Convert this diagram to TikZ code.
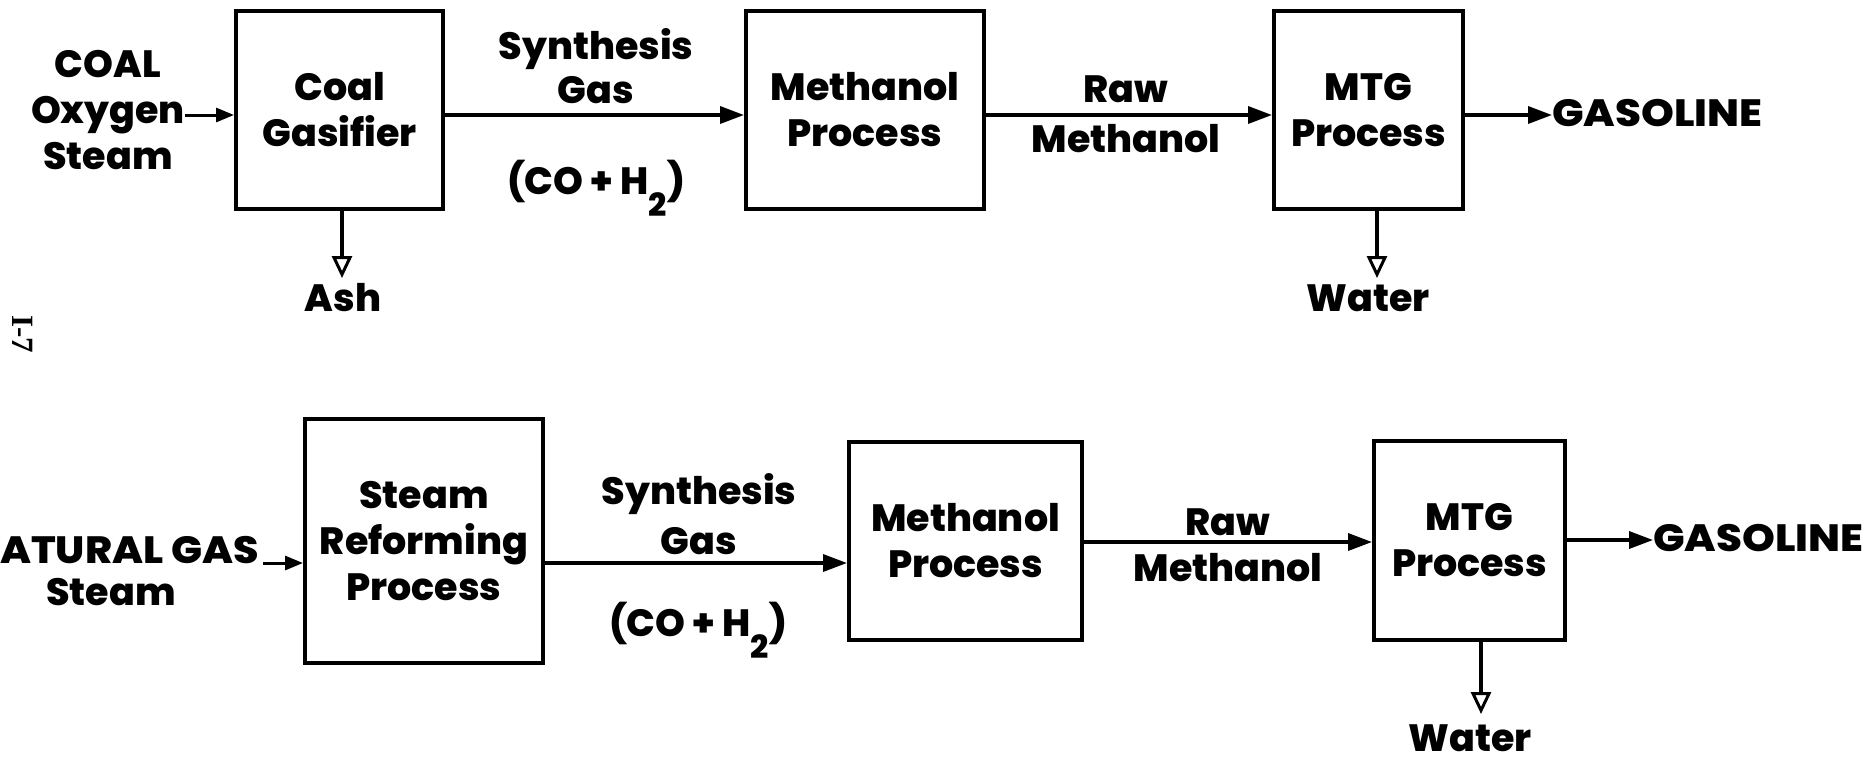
\documentclass[tikz,border=0pt]{standalone}
\usepackage{fontspec}
\setmainfont{Poppins}[BoldFont={* ExtraBold}]
\newfontfamily\pagefont{Liberation Serif}
\usetikzlibrary{arrows.meta}
\newcommand\lblfont{\fontsize{38}{46}\selectfont\bfseries}
\begin{document}
\begin{tikzpicture}[x=1pt,y=-1pt,
  box/.style={draw,line width=4pt,inner sep=0pt,align=center,font=\lblfont},
  lbl/.style={align=center,font=\lblfont,inner sep=0pt},
  arr/.style={line width=3.5pt,-{Triangle[length=24pt,width=17pt]}},
  sarr/.style={line width=3pt,-{Triangle[length=18pt,width=14pt]}},
  darr/.style={line width=3.5pt,-{Triangle[open,length=22pt,width=20pt,line width=3pt]}}
]
\fill[white] (0,0) rectangle (1873,761);
\useasboundingbox (0,0) rectangle (1873,761);
% ---------- top row ----------
\coordinate (r1) at (0,115);
\node[lbl] (in1) at (108,110) {COAL\\Oxygen\\Steam};
\node[box,minimum width=207pt,minimum height=198pt] (cg) at (339.5,109.5) {Coal\\Gasifier};
\node[box,minimum width=238pt,minimum height=198pt] (m1) at (865,110) {Methanol\\Process};
\node[box,minimum width=189pt,minimum height=198pt] (t1) at (1368.5,110) {MTG\\Process};
\node[lbl] (sg1) at (596,66) {Synthesis\\[-2pt]Gas};
\node[lbl] (co1) at (596,188) {(CO + H\raisebox{-22pt}{\fontsize{32}{32}\selectfont 2})};
\node[lbl] (rm1) at (1126,114) {Raw\\[4pt]Methanol};
\node[lbl,anchor=west] (g1) at (1552,113) {\scalebox{1.1}[1]{GASOLINE}};
\node[lbl] (ash) at (343,298) {Ash};
\node[lbl] (w1) at (1368,298) {Water};
\coordinate (ashend) at (342,278);
\coordinate (w1end) at (1377,278);
\draw[sarr] (in1.east |- r1) -- (cg.west |- r1);
\draw[arr] (cg.east |- r1) -- (m1.west |- r1);
\draw[arr] (m1.east |- r1) -- (t1.west |- r1);
\draw[arr] (t1.east |- r1) -- (g1.west |- r1);
\draw[darr] (cg.south -| ashend) -- (ashend);
\draw[darr] (t1.south -| w1end) -- (w1end);
% page number
\node[rotate=-90,font=\pagefont\fontsize{31}{31}\selectfont\bfseries] (pg) at (23,334) {I-7};
% ---------- bottom row ----------
\coordinate (r2a) at (0,563);
\coordinate (r2b) at (0,542);
\coordinate (r2c) at (0,540);
\node[lbl,anchor=west] (ng) at (0,550) {\scalebox{1.08}[1]{ATURAL GAS}};
\node[lbl] (st2) at (111,592) {Steam};
\node[box,minimum width=238pt,minimum height=244pt] (sr) at (424,541) {Steam\\Reforming\\Process};
\node[box,minimum width=233pt,minimum height=198pt] (m2) at (965.5,541) {Methanol\\Process};
\node[box,minimum width=191pt,minimum height=199pt] (t2) at (1469.5,540.5) {MTG\\Process};
\node[lbl] (sg2) at (699,514) {Synthesis\\[4pt]Gas};
\node[lbl] (co2) at (698,630) {(CO + H\raisebox{-22pt}{\fontsize{32}{32}\selectfont 2})};
\node[lbl] (rm2) at (1228,545) {Raw\\Methanol};
\node[lbl,anchor=west] (g2) at (1653,538) {\scalebox{1.1}[1]{GASOLINE}};
\node[lbl] (w2) at (1470,738) {Water};
\coordinate (w2end) at (1481,714);
\draw[sarr] ([xshift=4pt]ng.east |- r2a) -- (sr.west |- r2a);
\draw[arr] (sr.east |- r2a) -- (m2.west |- r2a);
\draw[arr] (m2.east |- r2b) -- (t2.west |- r2b);
\draw[arr] (t2.east |- r2c) -- (g2.west |- r2c);
\draw[darr] (t2.south -| w2end) -- (w2end);
\end{tikzpicture}
\end{document}
